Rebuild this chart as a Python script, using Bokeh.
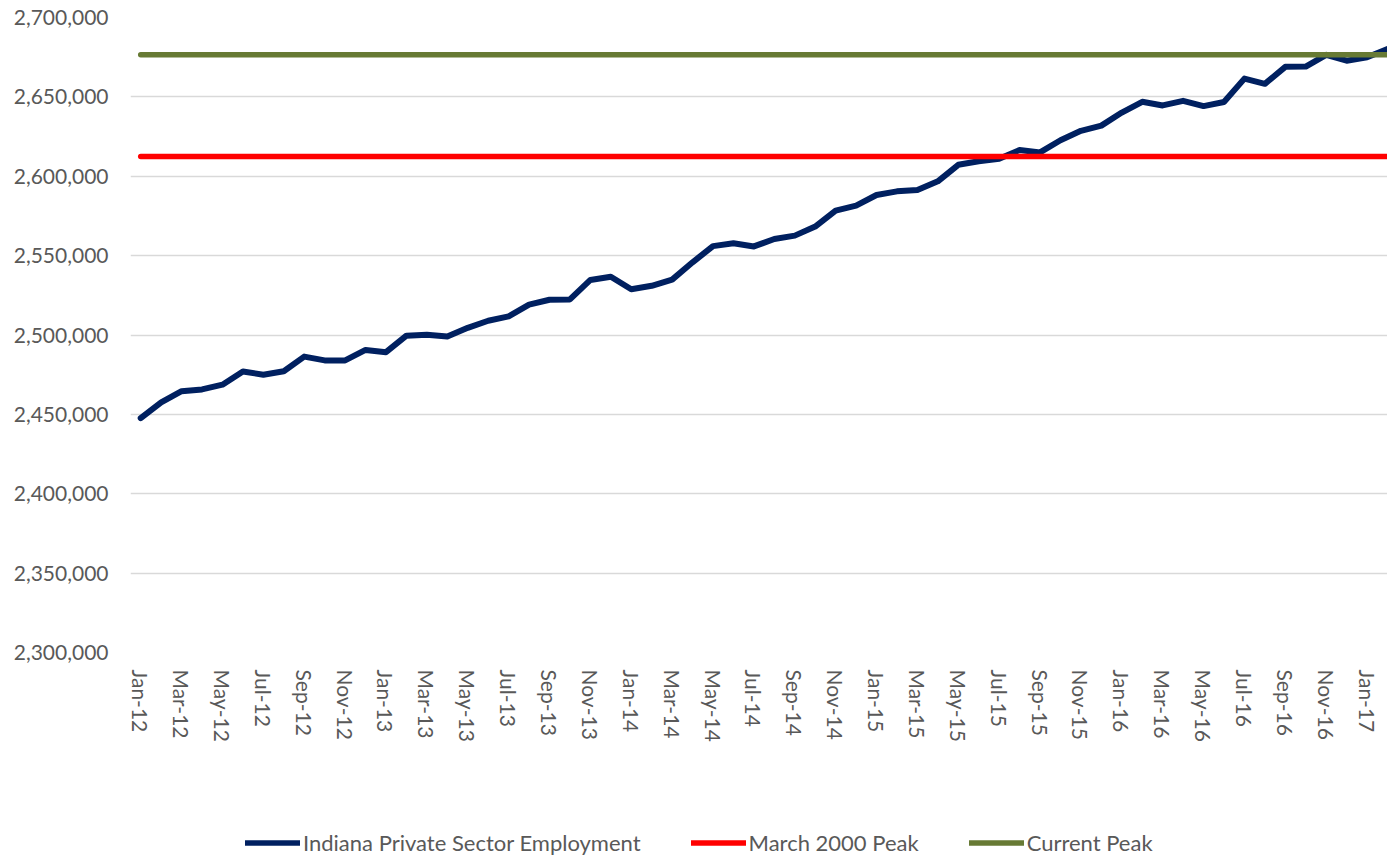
from bokeh.plotting import figure
from bokeh.layouts import column
from bokeh.models import Range1d, FixedTicker, NumeralTickFormatter, Legend, LegendItem
from bokeh.embed import file_html
from bokeh.resources import INLINE

months = [
    "Jan-12", "Feb-12", "Mar-12", "Apr-12", "May-12", "Jun-12", "Jul-12", "Aug-12", "Sep-12", "Oct-12", "Nov-12", "Dec-12",
    "Jan-13", "Feb-13", "Mar-13", "Apr-13", "May-13", "Jun-13", "Jul-13", "Aug-13", "Sep-13", "Oct-13", "Nov-13", "Dec-13",
    "Jan-14", "Feb-14", "Mar-14", "Apr-14", "May-14", "Jun-14", "Jul-14", "Aug-14", "Sep-14", "Oct-14", "Nov-14", "Dec-14",
    "Jan-15", "Feb-15", "Mar-15", "Apr-15", "May-15", "Jun-15", "Jul-15", "Aug-15", "Sep-15", "Oct-15", "Nov-15", "Dec-15",
    "Jan-16", "Feb-16", "Mar-16", "Apr-16", "May-16", "Jun-16", "Jul-16", "Aug-16", "Sep-16", "Oct-16", "Nov-16", "Dec-16",
    "Jan-17", "Feb-17",
]

employment = [
    2447600, 2457600, 2464600, 2465700, 2468700, 2477000, 2475000, 2477200, 2486400, 2484000, 2484000, 2490600,
    2489200, 2499600, 2500200, 2499000, 2504500, 2509000, 2511700, 2519100, 2522200, 2522400, 2534700, 2536700,
    2528800, 2531000, 2534900, 2545800, 2556000, 2557800, 2555800, 2560500, 2562600, 2568300, 2578300, 2581500,
    2588200, 2590500, 2591400, 2596800, 2607200, 2609400, 2611000, 2616500, 2615000, 2622700, 2628600, 2631900,
    2640100, 2646900, 2644600, 2647500, 2644200, 2646800, 2661500, 2658200, 2668900, 2669100, 2676500, 2672800,
    2674900, 2680200,
]

march_2000_peak = 2612500
current_peak = 2676500

y_ticks = [2300000, 2350000, 2400000, 2450000, 2500000, 2550000, 2600000, 2650000, 2700000]
x_tick_labels = ["Jan-12", "Mar-12", "May-12", "Jul-12", "Sep-12", "Nov-12",
                 "Jan-13", "Mar-13", "May-13", "Jul-13", "Sep-13", "Nov-13",
                 "Jan-14", "Mar-14", "May-14", "Jul-14", "Sep-14", "Nov-14",
                 "Jan-15", "Mar-15", "May-15", "Jul-15", "Sep-15", "Nov-15",
                 "Jan-16", "Mar-16", "May-16", "Jul-16", "Sep-16", "Nov-16",
                 "Jan-17"]

series_names = ["Indiana Private Sector Employment", "March 2000 Peak", "Current Peak"]
series_colors = ["#002060", "#FF0000", "#677A34"]

FONT = "Lato"
TEXT_COLOR = "#595959"

x = list(range(len(months)))
series_values = [employment, [march_2000_peak] * len(x), [current_peak] * len(x)]
series_widths = [6, 5.5, 5.5]

# ---------------- main chart ----------------
p = figure(width=1387, height=800, output_backend="svg", toolbar_location=None,
           x_range=Range1d(-0.5, 61.0), y_range=Range1d(y_ticks[0], y_ticks[-1]),
           min_border_left=130, min_border_right=0, min_border_top=17, min_border_bottom=148)
p.outline_line_color = None
p.background_fill_color = "white"
p.border_fill_color = "white"

for vals, color, w in zip(series_values, series_colors, series_widths):
    p.line(x, vals, line_color=color, line_width=w, line_cap="round", line_join="round")

# y axis
p.yaxis.ticker = FixedTicker(ticks=y_ticks)
p.yaxis.formatter = NumeralTickFormatter(format="0,0")
p.yaxis.axis_line_color = None
p.yaxis.major_tick_line_color = None
p.yaxis.minor_tick_line_color = None
p.yaxis.major_tick_out = 0
p.yaxis.major_tick_in = 0
p.yaxis.major_label_standoff = 22
p.yaxis.major_label_text_font = FONT
p.yaxis.major_label_text_font_size = "21px"
p.yaxis.major_label_text_color = TEXT_COLOR

# x axis
tick_idx = [months.index(lbl) for lbl in x_tick_labels]
p.xaxis.ticker = FixedTicker(ticks=tick_idx)
p.xaxis.major_label_overrides = {i: months[i] for i in tick_idx}
p.xaxis.major_label_orientation = "vertical"
p.xaxis.axis_line_color = None
p.xaxis.major_tick_line_color = None
p.xaxis.minor_tick_line_color = None
p.xaxis.major_tick_out = 0
p.xaxis.major_tick_in = 0
p.xaxis.major_label_standoff = 17
p.xaxis.major_label_text_font = FONT
p.xaxis.major_label_text_font_size = "21px"
p.xaxis.major_label_text_color = TEXT_COLOR

p.xgrid.grid_line_color = None
p.ygrid.ticker = FixedTicker(ticks=y_ticks)
p.ygrid.grid_line_color = "#D9D9D9"
p.ygrid.grid_line_width = 1.5

# ---------------- legend strip ----------------
# The series are drawn again here only as legend sources; the strip's range
# keeps them out of view, so only the legend swatches show.
lg = figure(width=1387, height=56, output_backend="svg", toolbar_location=None,
            x_range=Range1d(0, 1), y_range=Range1d(0, 1), min_border=0,
            x_axis_location=None, y_axis_location=None)
lg.outline_line_color = None
lg.xgrid.visible = False
lg.ygrid.visible = False
lg.border_fill_color = "white"
lg.background_fill_color = "white"

items = []
for name, vals, color in zip(series_names, series_values, series_colors):
    r = lg.line(x, vals, line_color=color, line_width=5.5, line_cap="round")
    items.append(LegendItem(label=name, renderers=[r]))

legend = Legend(items=items, orientation="horizontal", location=(115, 0),
                glyph_width=55, glyph_height=25, label_height=25, label_standoff=3, spacing=50,
                padding=0, margin=0, border_line_color=None, background_fill_alpha=0,
                label_text_font=FONT, label_text_font_size="22px", label_text_color=TEXT_COLOR)
lg.add_layout(legend, "center")

layout = column(p, lg, spacing=0)

open("out.html", "w").write(file_html(layout, INLINE))
